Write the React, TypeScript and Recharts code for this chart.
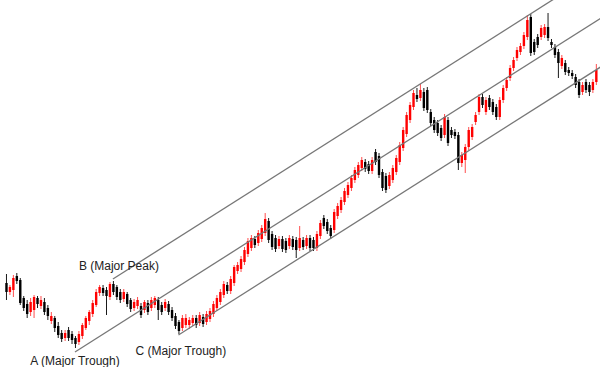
import React from "react";
import { ComposedChart, Bar, XAxis, YAxis, ReferenceLine, ReferenceDot } from "recharts";

// each candle: [open, high, low, close]
type Candle = [number, number, number, number];

const leadIn: Candle[] = [
  [117, 126, 100, 108], [108, 115, 105, 113], [110, 125, 103, 122], [124, 127, 116, 119],
  [120, 122, 95, 97], [102, 104, 89, 92], [96, 100, 82, 86], [88, 102, 84, 98],
  [90, 105, 82, 103], [102, 104, 92, 96], [94, 104, 91, 100], [98, 102, 85, 88],
  [92, 95, 80, 84], [79, 88, 76, 84], [82, 84, 68, 72], [74, 78, 62, 65],
  [67, 70, 58, 61], [62, 70, 59, 67], [70, 73, 59, 62], [66, 69, 56, 60],
];

const troughAToPeakB: Candle[] = [
  [62, 64, 52, 56], [58, 69, 55, 66], [64, 77, 61, 75], [72, 84, 70, 82],
  [79, 90, 75, 88], [86, 100, 83, 97], [95, 111, 93, 108], [107, 115, 104, 113],
  [112, 115, 104, 107], [110, 113, 85, 104], [103, 118, 100, 116], [116, 119, 105, 108],
];

const peakBToTroughC: Candle[] = [
  [113, 115, 100, 103], [108, 111, 97, 100], [101, 111, 98, 108], [106, 108, 93, 96],
  [100, 102, 88, 91], [92, 101, 89, 98], [94, 103, 91, 100], [94, 97, 82, 85],
  [90, 100, 87, 98], [97, 100, 85, 88], [92, 103, 89, 100], [95, 104, 92, 102],
  [100, 103, 80, 90], [95, 98, 85, 88], [92, 101, 89, 98], [96, 99, 85, 88],
  [90, 93, 79, 82], [84, 87, 71, 74], [78, 80, 66, 69],
];

const rallyOne: Candle[] = [
  [72, 85, 69, 82], [75, 86, 72, 82], [75, 83, 71, 80], [77, 85, 74, 82],
  [82, 85, 72, 75], [77, 88, 74, 85], [83, 86, 73, 76], [78, 89, 75, 86],
  [81, 92, 78, 89], [86, 99, 83, 96], [92, 105, 89, 102], [98, 111, 95, 108],
  [105, 119, 102, 116], [115, 118, 106, 109], [109, 124, 106, 121], [117, 135, 114, 133],
  [129, 138, 126, 135], [131, 144, 128, 141], [138, 153, 135, 150], [146, 162, 143, 159],
  [152, 165, 149, 162], [161, 164, 152, 155], [157, 170, 154, 167], [161, 175, 158, 172],
  [167, 187, 164, 181],
];

const consolidation: Candle[] = [
  [179, 182, 157, 160], [166, 169, 150, 153], [162, 165, 148, 151], [154, 164, 151, 161],
  [161, 164, 148, 151], [159, 162, 147, 150], [154, 165, 151, 162], [161, 164, 150, 153],
  [160, 163, 142, 150], [152, 174, 149, 162], [160, 163, 150, 153], [154, 165, 151, 162],
  [162, 165, 149, 152], [160, 163, 149, 152], [152, 169, 149, 166], [164, 180, 161, 177],
  [182, 185, 171, 174], [178, 181, 166, 169], [172, 175, 161, 164],
];

const rallyTwo: Candle[] = [
  [170, 191, 167, 188], [184, 197, 181, 194], [190, 203, 187, 200], [198, 212, 195, 209],
  [205, 218, 202, 215], [212, 225, 209, 222], [220, 233, 217, 230], [225, 238, 222, 235],
  [232, 243, 229, 240], [238, 241, 228, 231], [236, 239, 226, 229], [229, 243, 226, 240],
  [248, 251, 235, 238], [244, 247, 222, 225], [228, 231, 209, 212], [224, 227, 207, 210],
  [214, 228, 211, 225], [220, 235, 217, 232], [228, 245, 225, 242], [238, 258, 235, 255],
  [252, 273, 249, 270], [266, 288, 263, 285], [280, 298, 277, 295], [293, 310, 290, 307],
  [305, 312, 298, 301], [302, 316, 299, 310], [308, 312, 289, 292],
];

const pullback: Candle[] = [
  [310, 313, 287, 290], [288, 291, 274, 277], [280, 283, 267, 270], [277, 280, 264, 267],
  [272, 275, 259, 262], [265, 286, 262, 283], [280, 283, 254, 257], [270, 273, 262, 265],
  [268, 271, 261, 264], [265, 268, 230, 237], [237, 248, 233, 245],
];

const rallyThree: Candle[] = [
  [240, 256, 227, 253], [253, 273, 250, 270], [263, 276, 260, 273], [278, 288, 275, 285],
  [288, 306, 285, 303], [303, 306, 292, 295], [288, 303, 285, 300], [302, 305, 290, 293],
  [298, 301, 285, 288], [293, 296, 280, 283], [283, 303, 280, 300], [300, 315, 297, 312],
  [312, 323, 309, 320], [322, 335, 319, 332], [332, 343, 329, 340], [342, 353, 339, 350],
  [348, 357, 345, 354], [354, 368, 351, 365], [363, 385, 360, 380], [383, 386, 344, 347],
];

const topping: Candle[] = [
  [358, 361, 345, 348], [363, 366, 352, 355], [363, 375, 360, 372], [365, 376, 362, 373],
  [373, 387, 359, 362], [358, 361, 352, 355], [353, 356, 342, 345], [348, 351, 322, 337],
  [334, 345, 331, 342], [337, 340, 325, 328], [330, 333, 324, 327], [327, 330, 321, 324],
  [323, 326, 312, 315], [318, 321, 302, 305], [308, 318, 305, 315], [318, 321, 307, 310],
  [315, 318, 304, 308], [310, 321, 307, 318], [318, 336, 315, 330],
];

// channel anchors: candle index and price
const troughA = { i: 20, p: 48, label: "A (Major Trough)" };
const peakB = { i: 31, p: 121, label: "B (Major Peak)" };
const troughC = { i: 50, p: 65, label: "C (Major Trough)" };
const channelSlope = 2.19; // price per candle
const channelEnd = 200;

const candles = [
  ...leadIn, ...troughAToPeakB, ...peakBToTroughC, ...rallyOne, ...consolidation,
  ...rallyTwo, ...pullback, ...rallyThree, ...topping,
].map(([open, high, low, close], i) => ({ i, open, high, low, close, range: [low, high] }));

const CandleShape = (props: any) => {
  const { x, y, width, height, payload } = props;
  const { open, high, low, close } = payload;
  const top0 = height < 0 ? y + height : y;
  const h = Math.abs(height);
  const up = close >= open;
  const span = high - low || 1;
  const py = (v: number) => top0 + ((high - v) / span) * h;
  const bt = py(Math.max(open, close));
  const bb = py(Math.min(open, close));
  const cx = x + width / 2;
  return (
    <g>
      <line x1={cx} x2={cx} y1={top0} y2={top0 + h} stroke={up ? "#ff4d4d" : "#1a1a1a"} strokeWidth={1} />
      <rect x={x} y={bt} width={width} height={Math.max(1, bb - bt)} fill={up ? "#ff0000" : "#000000"} />
    </g>
  );
};

const channel = (a: { i: number; p: number }) => [
  { x: a.i, y: a.p },
  { x: channelEnd, y: a.p + channelSlope * (channelEnd - a.i) },
];

const labelShape = (text: string, dx: number, dy: number, anchor: "start" | "middle") => (p: any) => (
  <text
    x={p.cx + dx}
    y={p.cy + dy}
    textAnchor={anchor}
    fontSize={12}
    fontFamily="'Liberation Sans', Arial, sans-serif"
    fill="#222"
  >
    {text}
  </text>
);

export default function App() {
  return (
    <div style={{ position: "absolute", left: 0, top: 0, background: "#fff" }}>
      <ComposedChart width={600} height={367} data={candles} margin={{ top: 0, right: 0, left: 0, bottom: 0 }}>
        <XAxis dataKey="i" type="number" domain={[-1.74, 172.2]} allowDataOverflow hide />
        <YAxis type="number" domain={[33, 400]} allowDataOverflow hide />
        <Bar dataKey="range" barSize={2.4} shape={CandleShape} isAnimationActive={false} />
        <ReferenceLine segment={channel(peakB)} stroke="#777" strokeWidth={1.3} ifOverflow="hidden" />
        <ReferenceLine segment={channel(troughA)} stroke="#777" strokeWidth={1.3} ifOverflow="hidden" />
        <ReferenceLine segment={channel(troughC)} stroke="#777" strokeWidth={1.3} ifOverflow="hidden" />
        <ReferenceDot x={troughA.i} y={troughA.p} r={0} shape={labelShape(troughA.label, 0, 13, "middle")} />
        <ReferenceDot x={peakB.i} y={peakB.p} r={0} shape={labelShape(peakB.label, 6, -9, "middle")} />
        <ReferenceDot x={troughC.i} y={troughC.p} r={0} shape={labelShape(troughC.label, -43, 20, "start")} />
      </ComposedChart>
    </div>
  );
}
